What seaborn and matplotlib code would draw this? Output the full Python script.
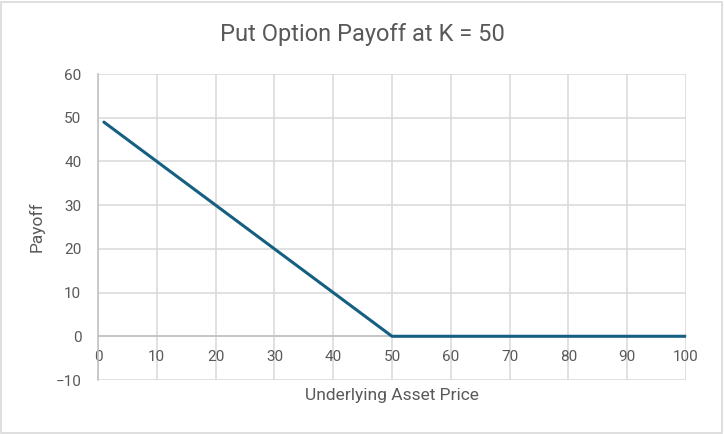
import seaborn as sns
import pandas as pd
from matplotlib import pyplot as plt
from matplotlib.patches import Rectangle

# underlying price and put payoff (K = 50)
price = [1, 10, 20, 30, 40, 50, 60, 70, 80, 90, 100]
payoff = [49, 40, 30, 20, 10, 0, 0, 0, 0, 0, 0]
x_ticks = [0, 10, 20, 30, 40, 50, 60, 70, 80, 90, 100]
y_ticks = [-10, 0, 10, 20, 30, 40, 50, 60]

sns.set_style("white")
plt.rcParams['font.family'] = ['Roboto', 'DejaVu Sans']

text_col = '#595959'
grid_col = '#d9d9d9'
axis_col = '#bfbfbf'

df = pd.DataFrame({'Underlying Asset Price': price, 'Payoff': payoff})

fig = plt.figure(figsize=(7.24, 4.34), dpi=100)
ax = fig.add_axes([98 / 724, 1 - 380 / 434, (686 - 98) / 724, (380 - 74) / 434])

sns.lineplot(data=df, x='Underlying Asset Price', y='Payoff', ax=ax,
             color='#156082', linewidth=2.2, zorder=5)

ax.set_xlim(0, 100)
ax.set_ylim(-10, 60)
ax.set_xticks(x_ticks)
ax.set_yticks(y_ticks)
ax.grid(True, color=grid_col, linewidth=1.1)
ax.set_axisbelow(True)

for s in ['top', 'right']:
    ax.spines[s].set_visible(False)
ax.spines['bottom'].set_position(('data', 0))
ax.spines['bottom'].set_color(axis_col)
ax.spines['left'].set_color(axis_col)
ax.spines['bottom'].set_linewidth(1.1)
ax.spines['left'].set_linewidth(1.1)

ax.tick_params(axis='both', length=0, labelsize=11, labelcolor=text_col)
ax.tick_params(axis='x', pad=10)
ax.tick_params(axis='y', pad=12)

ax.set_xlabel('Underlying Asset Price', fontsize=12.5, color=text_col)
ax.set_ylabel('Payoff', fontsize=12.5, color=text_col)
ax.xaxis.set_label_coords(0.5, -0.025)
ax.yaxis.set_label_coords(-0.09, 0.5)

fig.text(0.5, 1 - 35 / 434, 'Put Option Payoff at K = 50', ha='center', va='center',
         fontsize=17, color=text_col)

fig.patches.append(Rectangle((0.002, 0.003), 0.995, 0.993, transform=fig.transFigure,
                             fill=False, edgecolor=grid_col, linewidth=1.2))

fig.savefig('out.png', dpi=100)
